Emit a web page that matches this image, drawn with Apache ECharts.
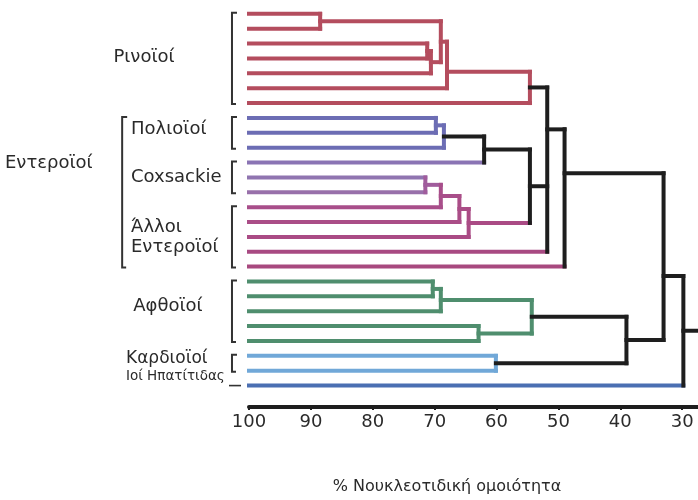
<!DOCTYPE html>
<html><head><meta charset="utf-8">
<script src="https://cdn.jsdelivr.net/npm/echarts@6/dist/echarts.min.js"></script>
<style>html,body{margin:0;padding:0;background:#fff}#c{width:698px;height:500px}</style>
</head><body><div id="c"></div>
<script>
// ---------- DATA ----------
// 26 leaves (rows, top to bottom); each leaf's group
const leafGroups = ['rhino','rhino','rhino','rhino','rhino','rhino','rhino',
  'polio','polio','polio','cox1','cox2','cox3',
  'ent1','ent2','ent3','ent4','ent5',
  'aphtho','aphtho','aphtho','aphtho','aphtho','cardio','cardio','hepato'];
// internal nodes: id, children (leaf row index or node id), % similarity at the join
const nodeIds = ['A','B','C','D','E','R','P1','P2','P3','Q1','Q2','Q3','Q4','N1','T1','T2','G1','G2','G3','G4','C1','AC','T3','T4'];
const nodeChildren = [[0,1],[2,3],['B',4],['A','C'],['D',5],['E',6],
  [7,8],['P1',9],['P2',10],
  [11,12],['Q1',13],['Q2',14],['Q3',15],['P3','Q4'],
  ['R','N1',16],['T1',17],
  [18,19],['G1',20],[21,22],['G2','G3'],[23,24],['G4','C1'],
  ['T2','AC'],['T3',25]];
const nodeSimilarity = [88.5,71.2,70.6,69.0,68.0,54.6,
  69.8,68.5,62.0,
  71.5,69.0,66.0,64.5,54.6,
  51.8,49.0,
  70.3,69.0,62.9,54.3,60.1,39.0,
  33.0,29.8];
// row at which a node's outgoing branch leaves (where not the midpoint of its children)
const nodeRowOverride = {E:3.9, T1:7.77, T2:10.72, T3:17.63};
const rootEnd = 20;
// bracket groups: [label, first row, last row]
const groups = [['Ρινοϊοί',0,6],['Πολιοϊοί',7,9],['Coxsackie',10,12],['Άλλοι Εντεροϊοί',13,17],['Αφθοϊοί',18,22],['Καρδιοϊοί',23,24]];
const outerGroups = [['Εντεροϊοί',7,17]];
const singleGroups = [['Ιοί Ηπατίτιδας',25]];
const xTicks = [100,90,80,70,60,50,40,30];

// ---------- STYLE ----------
const BLACK = '#1e1e1e';
const palette = {
  rhino:'#b44d5e', polio:'#6c6db4', cox1:'#8a74b4', cox2:'#9075b0', cox3:'#9870aa',
  ent1:'#a84e8a', ent2:'#aa4d87', ent3:'#aa4b85', ent4:'#a84a82', ent5:'#a8497f',
  q1:'#a05c9c', aphtho:'#4f8e6e', cardio:'#71a8d8', hepato:'#4b6fb2', black:BLACK
};
const nodeStyle = { // [vertical colour, outgoing branch colour]
  A:['rhino','rhino'],B:['rhino','rhino'],C:['rhino','rhino'],D:['rhino','rhino'],E:['rhino','rhino'],R:['rhino','black'],
  P1:['polio','polio'],P2:['polio','black'],P3:['black','black'],
  Q1:['q1','q1'],Q2:['ent1','ent1'],Q3:['ent2','ent2'],Q4:['ent3','ent3'],N1:['black','black'],
  T1:['black','black'],T2:['black','black'],
  G1:['aphtho','aphtho'],G2:['aphtho','aphtho'],G3:['aphtho','aphtho'],G4:['aphtho','black'],
  C1:['cardio','black'],AC:['black','black'],T3:['black','black'],T4:['black','black']
};

// ---------- BUILD SEGMENTS ----------
const nodes = {};
nodeIds.forEach((id,i)=>{ nodes[id] = {id, ch: nodeChildren[i], h: nodeSimilarity[i]}; });
function rowOf(c){ return typeof c === 'number' ? c : nodes[c].y; }
nodeIds.forEach(id=>{
  const n = nodes[id];
  const ys = n.ch.map(rowOf);
  n.ymin = Math.min(...ys); n.ymax = Math.max(...ys);
  n.y = (id in nodeRowOverride) ? nodeRowOverride[id] : (ys[0] + ys[ys.length-1]) / 2;
});
const segs = [], segCol = [];
function add(x1,y1,x2,y2,col){ segs.push([x1,y1,x2,y2]); segCol.push(palette[col]); }
nodeIds.forEach(id=>{
  const n = nodes[id];
  n.ch.forEach(c=>{
    if (typeof c === 'number') add(100, c, n.h, c, leafGroups[c]);
    else add(nodes[c].h, nodes[c].y, n.h, nodes[c].y, nodeStyle[c][1]);
  });
  add(n.h, n.ymin, n.h, n.ymax, nodeStyle[id][0]);
});
const root = nodes['T4'];
add(root.h, root.y, rootEnd, root.y, 'black');
// draw coloured first, black on top
const order = segs.map((s,i)=>i).sort((a,b)=>(segCol[a]===BLACK)-(segCol[b]===BLACK));
const segData = order.map(i=>segs[i]);
const segColors = order.map(i=>segCol[i]);

const chart = echarts.init(document.getElementById('c'), null, {renderer:'canvas'});
const FONT = '"DejaVu Sans", sans-serif';
const TXT = '#2a2a2a';

chart.setOption({
  animation:false,
  grid:{left:249, top:0, width:495, height:407, containLabel:false, outerBoundsMode:'none'},
  xAxis:{type:'value', inverse:true, min:20, max:100, interval:10,
    axisLine:{show:true, onZero:false, lineStyle:{color:BLACK, width:4}},
    axisTick:{show:true, length:3, lineStyle:{color:BLACK, width:2}},
    axisLabel:{color:TXT, fontSize:18, fontFamily:'DejaVu Sans', margin:6},
    splitLine:{show:false}},
  yAxis:{type:'value', inverse:true, min:-0.93, max:26.44, show:false, splitLine:{show:false}},
  series:[
    {type:'custom', coordinateSystem:'cartesian2d', clip:false,
      encode:{x:[0,2], y:[1,3]},
      data: segData,
      renderItem:(params, api)=>{
        const p1 = api.coord([api.value(0), api.value(1)]);
        const p2 = api.coord([api.value(2), api.value(3)]);
        return {type:'line', shape:{x1:p1[0],y1:p1[1],x2:p2[0],y2:p2[1]},
          style:{stroke:segColors[params.dataIndex], lineWidth:4, lineCap:'square'}};
      }},
    {type:'custom', coordinateSystem:'cartesian2d', clip:false,
      encode:{y:[1,2]},
      data: groups.map(g=>[102.75, g[1], g[2]]).concat(outerGroups.map(g=>[120.5, g[1], g[2]])),
      renderItem:(params, api)=>{
        const top = api.coord([api.value(0), api.value(1)]);
        const bot = api.coord([api.value(0), api.value(2)]);
        const x = top[0], y1 = top[1]-1, y2 = bot[1]+1;
        return {type:'polyline', shape:{points:[[x+5,y1],[x,y1],[x,y2],[x+4,y2]]},
          style:{stroke:'#333', lineWidth:2, fill:null}};
      }},
    {type:'custom', coordinateSystem:'cartesian2d', clip:false,
      encode:{y:1},
      data: singleGroups.map(g=>[102.75, g[1]]),
      renderItem:(params, api)=>{
        const p = api.coord([api.value(0), api.value(1)]);
        return {type:'line', shape:{x1:p[0]-3,y1:p[1],x2:p[0]+9,y2:p[1]},
          style:{stroke:'#333', lineWidth:1.6}};
      }}
  ],
  graphic:[
    {type:'text', x:144, y:57, style:{text:'Ρινοϊοί', font:'18px '+FONT, fill:TXT, textAlign:'center', textVerticalAlign:'middle'}},
    {type:'text', x:5, y:163, style:{text:'Εντεροϊοί', font:'18px '+FONT, fill:TXT, textAlign:'left', textVerticalAlign:'middle'}},
    {type:'text', x:131, y:129, style:{text:'Πολιοϊοί', font:'18px '+FONT, fill:TXT, textAlign:'left', textVerticalAlign:'middle'}},
    {type:'text', x:131, y:177, style:{text:'Coxsackie', font:'18px '+FONT, fill:TXT, textAlign:'left', textVerticalAlign:'middle'}},
    {type:'text', x:131, y:227, style:{text:'Άλλοι', font:'18px '+FONT, fill:TXT, textAlign:'left', textVerticalAlign:'middle'}},
    {type:'text', x:131, y:247, style:{text:'Εντεροϊοί', font:'18px '+FONT, fill:TXT, textAlign:'left', textVerticalAlign:'middle'}},
    {type:'text', x:168, y:306, style:{text:'Αφθοϊοί', font:'18px '+FONT, fill:TXT, textAlign:'center', textVerticalAlign:'middle'}},
    {type:'text', x:126, y:359, style:{text:'Καρδιοϊοί', font:'17px '+FONT, fill:TXT, textAlign:'left', textVerticalAlign:'middle'}},
    {type:'text', x:126, y:376, style:{text:'Ιοί Ηπατίτιδας', font:'13.5px '+FONT, fill:TXT, textAlign:'left', textVerticalAlign:'middle'}},
    {type:'text', x:447, y:487, style:{text:'% Νουκλεοτιδική ομοιότητα', font:'16px '+FONT, fill:TXT, textAlign:'center', textVerticalAlign:'middle'}}
  ]
});
</script></body></html>
